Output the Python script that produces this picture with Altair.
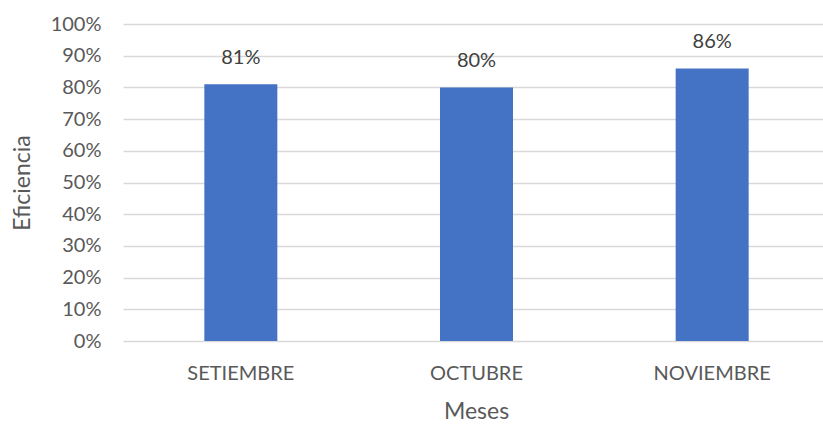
import altair as alt
import pandas as pd

meses = ["SETIEMBRE", "OCTUBRE", "NOVIEMBRE"]
eficiencia = [0.81, 0.80, 0.86]
etiquetas = ["81%", "80%", "86%"]

df = pd.DataFrame({"Meses": meses, "Eficiencia": eficiencia, "Etiqueta": etiquetas})

FONT = "Lato"
GREY = "#595959"

x = alt.X(
    "Meses:N",
    sort=meses,
    scale=alt.Scale(range=[0, 707], paddingInner=0, paddingOuter=0),
    axis=alt.Axis(
        title="Meses", labelAngle=0, domain=False, ticks=False,
        labelPadding=22, labelFontSize=20, labelColor=GREY, labelFont=FONT,
        titleFontSize=23, titleColor=GREY, titleFont=FONT, titleFontWeight="normal",
        titlePadding=17, titleX=353,
    ),
)
y = alt.Y(
    "Eficiencia:Q",
    scale=alt.Scale(domain=[0, 1], nice=False),
    axis=alt.Axis(
        title="Eficiencia", format="%", values=[i / 10 for i in range(11)],
        domain=False, ticks=False, labelPadding=22, labelFontSize=20,
        labelColor=GREY, labelFont=FONT, grid=True, gridColor="#d9d9d9", gridWidth=1.3,
        titleFontSize=23, titleColor=GREY, titleFont=FONT, titleFontWeight="normal",
        titlePadding=16,
    ),
)

bars = alt.Chart(df).mark_bar(color="#4472C4", size=73).encode(x=x, y=y)
text = alt.Chart(df).mark_text(
    baseline="bottom", dy=-16, fontSize=20, font=FONT, color="#404040"
).encode(x=x, y=y, text="Etiqueta:N")

chart = (
    (bars + text)
    .properties(
        width=700, height=317,
        autosize=alt.AutoSizeParams(type="none"),
        padding={"left": 123, "top": 24, "right": 0, "bottom": 83},
    )
    .configure_view(stroke=None)
)

chart.save("out.html", embed_options={"renderer": "svg", "actions": False})
